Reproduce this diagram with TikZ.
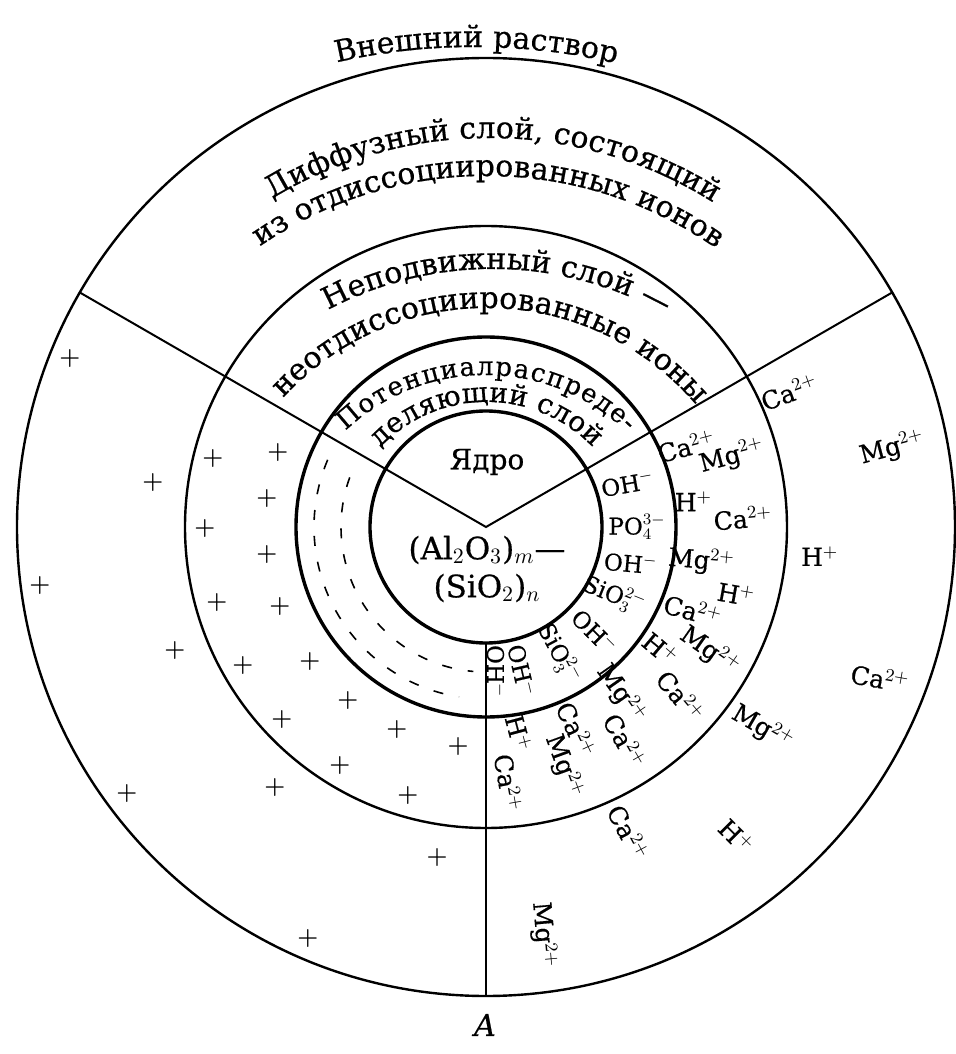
\documentclass[tikz,border=0pt]{standalone}
\usepackage{fontspec}
\setmainfont{DejaVu Serif}[FakeBold=0.5]
\usetikzlibrary{decorations.text}

\begin{document}
\begin{tikzpicture}[
  x=0.5pt, y=0.5pt,
  ring/.style={draw=black, line width=1.2pt},
  innerring/.style={draw=black, line width=1.7pt},
  spoke/.style={draw=black, line width=1pt},
  hull/.style={draw=black, line width=0.8pt, dash pattern=on 5pt off 8pt},
  ion/.style={font=\fontsize{12.5}{13}\selectfont, inner sep=0pt},
  anionlabel/.style={font=\fontsize{11.5}{12}\selectfont, inner sep=0pt},
  pluscharge/.style={font=\fontsize{12}{12}\selectfont\boldmath, inner sep=0pt},
  corelabel/.style={font=\fontsize{14}{19}\selectfont, align=center, inner sep=0pt},
  arctext/.style 2 args={decorate, decoration={text along path,
      text align={fit to path}, text={|\fontsize{#1}{#1}\selectfont|#2}}},
]
\useasboundingbox (-486,-527) rectangle (470,527);

% ---- rings ------------------------------------------------------------
\coordinate (O) at (0,0);
\draw[innerring] (O) circle[radius=116];
\draw[innerring] (O) circle[radius=190];
\draw[ring] (O) circle[radius=301];
\draw[ring] (O) circle[radius=469];

% ---- sector borders ---------------------------------------------------
\coordinate (spokeL) at (150:469);
\coordinate (spokeR) at (30:469);
\coordinate (coreS) at (270:116);
\coordinate (outerS) at (270:469);
\draw[spoke] (spokeL) -- (O) -- (spokeR);
\draw[spoke] (coreS) -- (outerS);

% ---- negative charge shells (left) ------------------------------------
\draw[hull] (157:172) arc[start angle=157, end angle=261, radius=172];
\draw[hull] (160:145) arc[start angle=160, end angle=265, radius=145];

% ---- layer captions ---------------------------------------------------
\path[arctext={15}{Внешний раствор}, shift={(-12,-140)}]
  (102.8:620) arc[start angle=102.8, end angle=77.2, radius=620];
\path[arctext={15}{Диффузный слой, состоящий}, shift={(3.5,-31)}]
  (121.2:420) arc[start angle=121.2, end angle=58.8, radius=420];
\path[arctext={15}{из отдиссоциированных ионов}, shift={(0.5,-49)}]
  (124.5:400) arc[start angle=124.5, end angle=55.5, radius=400];
\path[arctext={15}{Неподвижный слой —}, shift={(6.5,-92.5)}]
  (118:350.5) arc[start angle=118, end angle=62, radius=350.5];
\path[arctext={15}{неотдиссоциированные ионы}, shift={(0.5,-56)}]
  (137.7:275) arc[start angle=137.7, end angle=42.3, radius=275];
\path[arctext={13}{Потенциалраспреде-}, shift={(-0.5,-51.4)}]
  (133.5:203.4) arc[start angle=133.5, end angle=46, radius=203.4];
\path[arctext={14}{деляющий слой}, shift={(0.5,-22.4)}]
  (136.3:147.4) arc[start angle=136.3, end angle=43.7, radius=147.4];

% ---- core -------------------------------------------------------------
\node[corelabel] (core) at (1,65) {Ядро};
\node[corelabel, font=\fontsize{15.5}{19}\selectfont] (formula) at (1,-42)
  {(Al$_2$O$_3$)$_m$—\\(SiO$_2$)$_n$};

% ---- ions of the potential-determining layer --------------------------
\foreach \ang/\rad/\rot/\txt [count=\i] in {
  17/148/10/{OH$^-$}, 0/151/0/{PO$_4^{3-}$}, -14/149/-5/{OH$^-$},
  -28/145/-22/{SiO$_3^{2-}$}, -44/151/-45/{OH$^-$},
  -60/146/-62/{SiO$_3^{2-}$}, -76/148/-77/{OH$^-$}, -86/145/-90/{OH$^-$}}
  \node[anionlabel, rotate=\rot] (anion\i) at (\ang:\rad) {\txt};

% ---- counter-ions, fixed layer ----------------------------------------
\foreach \ang/\rad/\rot/\txt [count=\i] in {
  22/216/15/{Ca$^{2+}$}, 16/256/15/{Mg$^{2+}$}, 7/209/0/{H$^+$},
  2/257/5/{Ca$^{2+}$}, -9/218/-5/{Mg$^{2+}$}, -15/259/-10/{H$^+$},
  -22/223/-15/{Ca$^{2+}$}, -35/213/-40/{H$^+$}, -29/256/-35/{Mg$^{2+}$},
  -51/215/-55/{Mg$^{2+}$}, -41/258/-50/{Ca$^{2+}$}, -66/222/-65/{Ca$^{2+}$},
  -57/255/-60/{Ca$^{2+}$}, -81/209/-75/{H$^+$}, -72/252/-70/{Mg$^{2+}$},
  -85/257/-80/{Ca$^{2+}$}}
  \node[ion, rotate=\rot] (fixion\i) at (\ang:\rad) {\txt};

% ---- counter-ions, diffuse layer --------------------------------------
\foreach \ang/\rad/\rot/\txt [count=\i] in {
  24/332/20/{Ca$^{2+}$}, 11/414/15/{Mg$^{2+}$}, -5/335/0/{H$^+$},
  -21/422/-10/{Ca$^{2+}$}, -36/342/-30/{Mg$^{2+}$}, -65/337/-62/{Ca$^{2+}$},
  -51/398/-45/{H$^+$}, -82/412/-85/{Mg$^{2+}$}}
  \node[ion, rotate=\rot] (difion\i) at (\ang:\rad) {\txt};

% ---- positive charges (left) ------------------------------------------
\foreach \px/\py [count=\i] in {
  -273/68, -208/74, -219/28, -281/-2, -219/-27, -269/-75, -206/-79,
  -243/-138, -176/-134, -138/-173, -204/-192, -89/-202, -28/-219,
  -146/-238, -211/-260, -78/-268, -416/168, -333/44, -446/-58,
  -311/-123, -359/-266, -49/-330, -178/-411}
  \node[pluscharge] (plus\i) at (\px,\py) {$+$};

\node[font=\fontsize{15}{15}\selectfont\itshape, inner sep=0pt] (label) at (-1,-498) {A};

\end{tikzpicture}
\end{document}
